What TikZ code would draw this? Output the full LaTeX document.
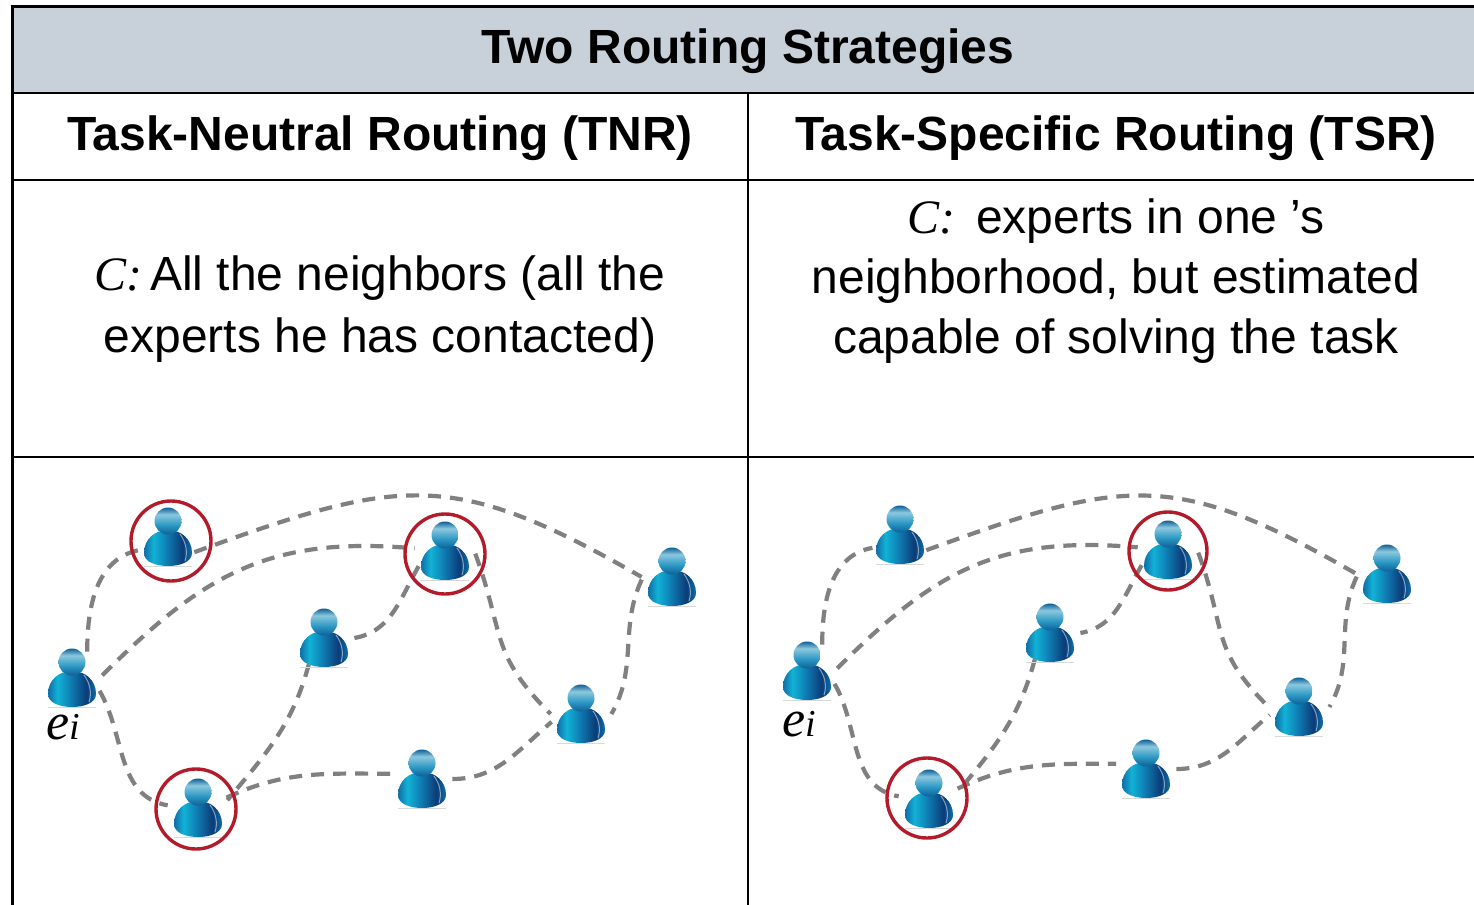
\documentclass[tikz,border=0pt]{standalone}
\usepackage{fontspec}
\setmainfont{Liberation Sans}
\newfontfamily\romanfont{Liberation Serif}
\usetikzlibrary{positioning,calc}
\definecolor{headgray}{HTML}{C8D0DA}
\definecolor{ringred}{HTML}{B31B2B}
\definecolor{linkgray}{HTML}{808080}
\definecolor{bodyedge}{HTML}{0F6EA8}
\definecolor{bodycyan}{HTML}{12B2D6}
\definecolor{bodymid}{HTML}{0F7FB5}
\definecolor{bodydark}{HTML}{0B3C78}
\definecolor{headdark}{HTML}{0F6096}
\definecolor{headmid}{HTML}{2A97C4}
\definecolor{headlight}{HTML}{8CC8DE}
\pgfdeclarehorizontalshading{bodyshade}{100bp}{
  color(0bp)=(bodyedge); color(25bp)=(bodyedge);
  color(35bp)=(bodycyan); color(48bp)=(bodymid);
  color(65bp)=(bodydark); color(75bp)=(bodyedge); color(100bp)=(bodyedge)}
\pgfdeclareverticalshading{headshade}{100bp}{
  color(0bp)=(headdark); color(25bp)=(headdark);
  color(42bp)=(headmid); color(62bp)=(headlight);
  color(75bp)=(headdark); color(100bp)=(headdark)}
\tikzset{
  person/.pic={
    \draw[gray!30,line width=.4pt] (-24,29.5) -- (24,29.5);
    \shade[shading=bodyshade]
      (-24,16) .. controls (-24,2) and (-13,-7) .. (0,-7)
      .. controls (13,-7) and (24,2) .. (24,16)
      .. controls (24,25) and (12,29) .. (0,29)
      .. controls (-12,29) and (-24,25) .. (-24,16) -- cycle;
    \draw[white,opacity=.5,line width=.5pt] (12,-3) .. controls (18,5) and (20,15) .. (17,24);
    \shade[shading=headshade] (0,-16) circle (13.5);
  },
  who/.style={circle,minimum size=30pt,inner sep=0pt},
  ring/.style={circle,draw=ringred,line width=1.7pt,minimum size=40pt,inner sep=0pt},
  link/.style={draw=linkgray,line width=2.1pt,dash pattern=on 6.5pt off 4.5pt},
  grid/.style={line width=1pt},
  hd/.style={font=\fontsize{24}{27}\selectfont\bfseries},
  body/.style={font=\fontsize{24}{30}\selectfont,align=center},
  sub/.style={font=\fontsize{26}{27}\romanfont\itshape}
}
\newcommand{\setc}{{\romanfont\itshape C:}}
\begin{document}
\begin{tikzpicture}[x=.5pt,y=-.5pt]
\useasboundingbox (0,0) rectangle (1474,905);
% table
\fill[headgray] (12,6) rectangle (1474,93);
\draw[line width=1.5pt] (12,905) -- (12,6) -- (1474,6);
\draw[grid] (12,93) -- (1474,93);
\draw[grid] (12,180) -- (1474,180);
\draw[grid] (12,457) -- (1474,457);
\draw[grid] (748,93) -- (748,905);
\node[hd] (title) at (748,51) {Two Routing Strategies};
\node[hd] (tnr) at (380,138) {Task-Neutral Routing (TNR)};
\node[hd] (tsr) at (1116,138) {Task-Specific Routing (TSR)};
\node[body,font=\fontsize{24}{31}\selectfont] (tnrtext) at (380,309) {\setc\hspace{-3pt} All the neighbors (all the\\experts he has contacted)};
\node[body] (tsrtext) at (1116,281) {\setc\hspace{-3pt}~ experts in one ’s\\neighborhood, but estimated\\capable of solving the task};
% experts
\foreach \p/\nm/\x/\y in {l/E/72/678,l/A/168/537,l/B/445/551,l/C/672/577,l/D/324/638,l/F/581/714,l/G/422/779,l/H/198/808,
                          r/E/807/671,r/A/900/535,r/B/1168/550,r/C/1387/574,r/D/1050/633,r/F/1299/707,r/G/1146/769,r/H/929/799}
  \node[who] (\p\nm) at (\x,\y) {};
% connectors
\foreach \p in {l,r}
  \foreach \a/\aa/\o/\b/\bb/\i/\lo in {E/60/90/A/205/190/1, A/-30/20/C/180/150/1.25, E/5/45/B/175/175/1.1,
                                 B/-150/240/D/0/10/1, B/-5/-70/F/180/135/1.25, C/185/-115/F/0/60/1,
                                 D/240/-105/H/15/50/1, H/20/25/G/170/180/1, G/0/0/F/195/220/1,
                                 E/-25/-60/H/175/170/1}
    \draw[link] (\p\a.\aa) to[out=\o,in=\i,looseness=\lo] (\p\b.\bb);
\foreach \p/\nm in {l/E,l/A,l/B,l/C,l/D,l/F,l/G,l/H,r/E,r/A,r/B,r/C,r/D,r/F,r/G,r/H}
  \pic at (\p\nm) {person};
% chosen ones
\node[ring] (ringa) at (171,541) {};
\node[ring] (ringb) at (445,554) {};
\node[ring] (ringc) at (196,809) {};
\node[ring,minimum size=39pt] (ringd) at (1168,551) {};
\node[ring] (ringe) at (927,798) {};
% labels
\node[sub] (eleft) at (63,727) {e{\fontsize{19}{20}\selectfont i}};
\node[sub] (eright) at (799,724) {e{\fontsize{19}{20}\selectfont i}};
\end{tikzpicture}
\end{document}
